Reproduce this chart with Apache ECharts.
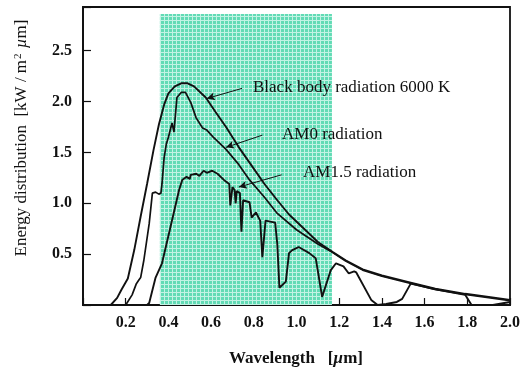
<!DOCTYPE html>
<html><head><meta charset="utf-8">
<script src="https://cdn.jsdelivr.net/npm/echarts@6/dist/echarts.min.js"></script>
<style>html,body{margin:0;padding:0;background:#fff}#c{width:523px;height:370px}</style>
</head><body><div id="c"></div>
<script>
// ---- data (wavelength µm, energy kW/m²µm) ----
const blackBody = [[0.13,0],[0.16,0.07],[0.18,0.15],[0.21,0.26],[0.24,0.54],[0.27,0.87],[0.30,1.19],[0.33,1.52],[0.356,1.78],[0.38,1.97],[0.40,2.08],[0.43,2.15],[0.46,2.18],[0.49,2.18],[0.52,2.15],[0.575,2.04],[0.62,1.90],[0.67,1.75],[0.73,1.55],[0.78,1.40],[0.85,1.19],[0.91,1.03],[0.965,0.89],[1.05,0.72],[1.10,0.62],[1.17,0.52],[1.23,0.44],[1.31,0.35],[1.40,0.29],[1.535,0.22],[1.65,0.16],[1.79,0.11],[1.90,0.08],[2.0,0.05]];
const am0 = [[0.20,0],[0.23,0.10],[0.25,0.21],[0.26,0.24],[0.27,0.27],[0.285,0.44],[0.31,0.80],[0.325,1.10],[0.34,1.11],[0.355,1.09],[0.365,1.10],[0.37,1.19],[0.38,1.45],[0.39,1.58],[0.40,1.65],[0.417,1.79],[0.426,1.70],[0.44,2.04],[0.46,2.09],[0.48,2.09],[0.505,1.99],[0.53,1.84],[0.56,1.74],[0.58,1.72],[0.61,1.65],[0.67,1.53],[0.73,1.38],[0.78,1.23],[0.85,1.06],[0.91,0.90],[1.0,0.74],[1.1,0.60],[1.17,0.515],[1.23,0.433],[1.31,0.343],[1.40,0.283],[1.535,0.213],[1.65,0.153],[1.79,0.103],[1.90,0.073],[2.0,0.043]];
const am15 = [[0.30,0],[0.31,0.02],[0.34,0.27],[0.37,0.41],[0.41,0.77],[0.45,1.13],[0.465,1.23],[0.485,1.26],[0.50,1.24],[0.505,1.28],[0.53,1.29],[0.545,1.27],[0.565,1.32],[0.58,1.30],[0.605,1.32],[0.63,1.29],[0.66,1.23],[0.685,1.19],[0.69,0.98],[0.70,1.16],[0.71,1.13],[0.715,1.0],[0.72,1.12],[0.735,1.10],[0.742,0.72],[0.75,1.03],[0.78,1.01],[0.79,0.86],[0.81,0.91],[0.83,0.83],[0.84,0.47],[0.855,0.83],[0.90,0.81],[0.91,0.60],[0.92,0.17],[0.95,0.23],[0.965,0.51],[0.98,0.54],[1.01,0.57],[1.06,0.51],[1.09,0.46],[1.12,0.08],[1.16,0.34],[1.185,0.41],[1.22,0.38],[1.245,0.31],[1.27,0.33],[1.28,0.32],[1.35,0.05],[1.38,0],[1.42,0.01],[1.47,0.03],[1.495,0.06],[1.535,0.21],[1.65,0.155],[1.79,0.10],[1.82,0],[1.92,0],[2.0,0.03]];
const visibleBand = [0.36, 1.166];
const xTickLabels = ['0.2','0.4','0.6','0.8','1.0','1.2','1.4','1.6','1.8','2.0'];
const yTickLabels = ['0.5','1.0','1.5','2.0','2.5'];
const annotations = [
  {text:'Black body radiation 6000 K', from:[0.745,2.13], to:[0.58,2.03]},
  {text:'AM0 radiation', from:[0.84,1.67], to:[0.67,1.55]},
  {text:'AM1.5 radiation', from:[0.93,1.28], to:[0.73,1.16]}
];

// ---- pattern for the band ----
const pc = document.createElement('canvas'); pc.width = 4; pc.height = 4;
const g = pc.getContext('2d');
g.fillStyle = '#62dbb5'; g.fillRect(0,0,4,4);
g.fillStyle = '#c2f3e4'; g.fillRect(0,0,4,1); g.fillRect(0,0,1,4);

const FONT = '"Liberation Serif","DejaVu Serif",serif';
const chart = echarts.init(document.getElementById('c'), null, {renderer:'canvas'});
const lineSeries = (name, data, w) => ({
  name, type:'line', data, showSymbol:false, symbol:'none', smooth:false,
  lineStyle:{color:'#111', width:w}, z:3, animation:false
});
const s0 = lineSeries('Black body', blackBody, 1.9);
s0.markArea = {silent:true, itemStyle:{color:{image:pc, repeat:'repeat'}},
  data:[[{xAxis:visibleBand[0], yAxis:0},{xAxis:visibleBand[1], yAxis:2.86}]], z:1};
s0.markLine = {silent:true, symbol:['none','arrow'], symbolSize:[6,8], animation:false,
  lineStyle:{color:'#111', width:1, type:'solid'}, label:{show:false},
  data: annotations.map(a => [{coord:a.from},{coord:a.to}])};

const labelFont = '17px ' + FONT;
chart.setOption({
  animation:false,
  grid:{left:83, right:12, top:7, bottom:65, show:true, borderColor:'#111', borderWidth:1.8, backgroundColor:'transparent'},
  xAxis:{type:'value', min:0, max:2.0, interval:0.2,
    axisLine:{lineStyle:{color:'#111', width:1.8}},
    axisTick:{inside:true, length:7, lineStyle:{color:'#111', width:1.2}},
    splitLine:{show:false},
    axisLabel:{color:'#111', fontFamily:FONT, fontSize:16, fontWeight:'bold', margin:10,
      formatter: v => { const t = v.toFixed(1); return xTickLabels.includes(t) ? t : ''; }}},
  yAxis:{type:'value', min:0, max:2.93, interval:0.5,
    axisLine:{lineStyle:{color:'#111', width:1.8}},
    axisTick:{inside:true, length:8, lineStyle:{color:'#111', width:1.2}},
    splitLine:{show:false},
    axisLabel:{color:'#111', fontFamily:FONT, fontSize:16, fontWeight:'bold', margin:11,
      formatter: v => { const t = v.toFixed(1); return yTickLabels.includes(t) && Math.abs(v - parseFloat(t))<1e-6 ? t : ''; }}},
  series:[s0, lineSeries('AM0', am0, 1.7), lineSeries('AM1.5', am15, 1.9)],
  graphic:[
    {type:'text', z:100, left:253, top:79, style:{text:annotations[0].text, font:labelFont, fill:'#111'}},
    {type:'text', z:100, left:282, top:126, style:{text:annotations[1].text, font:labelFont, fill:'#111'}},
    {type:'text', z:100, left:303, top:164, style:{text:annotations[2].text, font:labelFont, fill:'#111'}},
    {type:'text', z:100, x:296, y:359, style:{text:'{n|Wavelength   [}{i|µ}{n|m]}', align:'center', verticalAlign:'middle',
      rich:{n:{fontFamily:FONT, fontSize:17, fill:'#111', fontWeight:'bold'}, i:{fontFamily:FONT, fontSize:17, fontStyle:'italic', fill:'#111', fontWeight:'bold'}}}},
    {type:'text', z:100, x:22, y:138, rotation:Math.PI/2, style:{text:'{n|Energy distribution  [kW / m}{s|2}{n| }{i|µ}{n|m]}', align:'center', verticalAlign:'middle',
      rich:{n:{fontFamily:FONT, fontSize:17, fill:'#111'}, s:{fontFamily:FONT, fontSize:11, fill:'#111', verticalAlign:'top', padding:[0,1,7,1]}, i:{fontFamily:FONT, fontSize:17, fontStyle:'italic', fill:'#111'}}}}
  ]
});
</script></body></html>
